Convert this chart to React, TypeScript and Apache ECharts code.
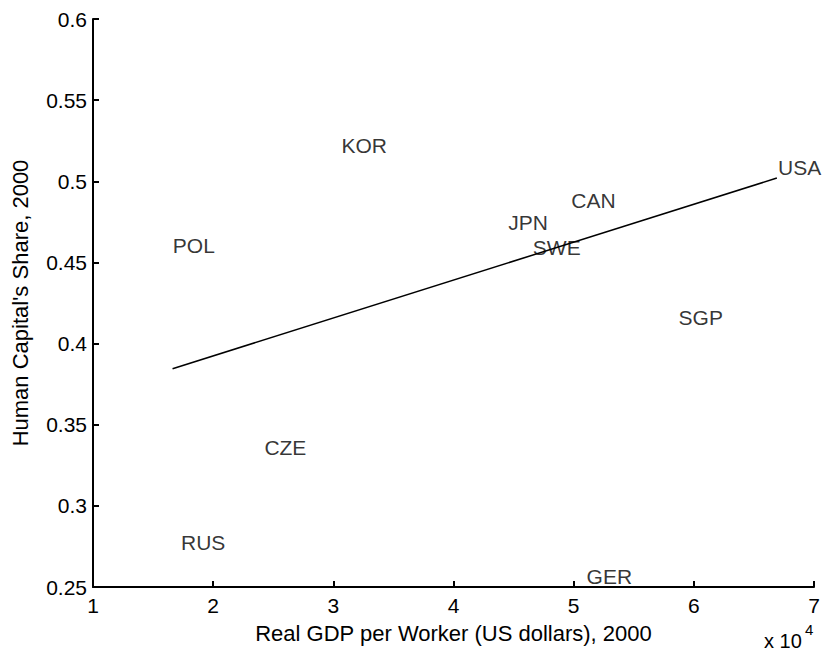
import React, { useEffect, useRef } from "react";
import * as echarts from "echarts";

const countries = ["USA", "KOR", "CAN", "JPN", "SWE", "POL", "SGP", "CZE", "RUS", "GER"];
const gdpPerWorker = [66960, 30630, 49760, 44510, 46560, 16600, 58690, 24220, 17280, 51030];
const humanCapitalShare = [0.5082, 0.5222, 0.4882, 0.4745, 0.4591, 0.4607, 0.416, 0.336, 0.2774, 0.2566];
const fitX = [16620, 66910];
const fitY = [0.3845, 0.502];

const FONT = "Liberation Sans, Arial, Helvetica, sans-serif";
const FS = 21;
const TITLE_FS = 22;

export default function App() {
  const ref = useRef<HTMLDivElement>(null);
  useEffect(() => {
    if (!ref.current) return;
    const chart = echarts.init(ref.current, null, { renderer: "svg" });
    const points = countries.map((c, i) => [gdpPerWorker[i], humanCapitalShare[i], c]);
    const fit = fitX.map((x, i) => [x, fitY[i]]);
    chart.setOption({
      animation: false,
      backgroundColor: "#ffffff",
      textStyle: { fontFamily: FONT },
      grid: { left: 93, right: 14, top: 19, bottom: 66 },
      xAxis: {
        type: "value",
        min: 10000,
        max: 70000,
        interval: 10000,
        name: "Real GDP per Worker (US dollars), 2000",
        nameLocation: "middle",
        nameGap: 35,
        nameTextStyle: { color: "#000", fontSize: TITLE_FS, fontFamily: FONT },
        axisLine: { show: true, lineStyle: { color: "#000", width: 2 } },
        axisTick: { show: true, inside: true, length: 6, lineStyle: { color: "#000", width: 2 } },
        axisLabel: {
          color: "#000",
          fontSize: FS,
          fontFamily: FONT,
          margin: 8,
          formatter: (v: number) => String(Math.round(v / 10000)),
        },
        splitLine: { show: false },
      },
      yAxis: {
        type: "value",
        min: 0.25,
        max: 0.6,
        interval: 0.05,
        name: "Human Capital's Share, 2000",
        nameLocation: "middle",
        nameRotate: 90,
        nameGap: 62,
        nameTextStyle: { color: "#000", fontSize: TITLE_FS, fontFamily: FONT },
        axisLine: { show: true, lineStyle: { color: "#000", width: 2 } },
        axisTick: { show: true, inside: true, length: 6, lineStyle: { color: "#000", width: 2 } },
        axisLabel: {
          color: "#000",
          fontSize: FS,
          fontFamily: FONT,
          margin: 6,
          formatter: (v: number) => String(+v.toFixed(2)),
        },
        splitLine: { show: false },
      },
      graphic: [
        {
          type: "text",
          left: 764,
          top: 631,
          style: { text: "x 10", fontSize: 20, fontFamily: FONT, fill: "#000" },
        },
        {
          type: "text",
          left: 805,
          top: 622,
          style: { text: "4", fontSize: 15, fontFamily: FONT, fill: "#000" },
        },
      ],
      series: [
        {
          type: "line",
          data: fit,
          showSymbol: false,
          symbol: "none",
          lineStyle: { color: "#000", width: 1.5 },
          silent: true,
        },
        {
          type: "scatter",
          data: points,
          symbolSize: 1,
          itemStyle: { color: "rgba(0,0,0,0)" },
          label: {
            show: true,
            position: "right",
            distance: 0,
            formatter: (p: any) => p.value[2],
            color: "#000",
            fontSize: FS,
            fontFamily: FONT,
          },
        },
      ],
    });
    return () => chart.dispose();
  }, []);
  return (
    <div
      ref={ref}
      style={{ position: "fixed", left: 0, top: 0, width: 828, height: 653, background: "#fff" }}
    />
  );
}
